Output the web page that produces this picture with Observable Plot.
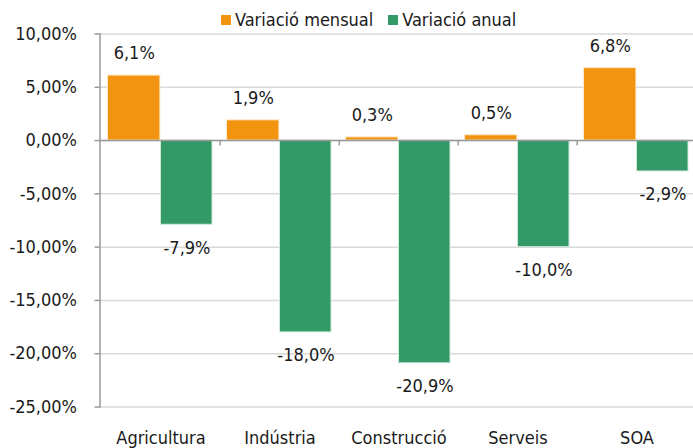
<!DOCTYPE html>
<html>
<head>
<meta charset="utf-8">
<script src="https://cdn.jsdelivr.net/npm/d3@7"></script>
<script src="https://cdn.jsdelivr.net/npm/@observablehq/plot@0.6"></script>
<style>
  html, body { margin: 0; padding: 0; background: #fff; }
  #wrap { position: relative; width: 693px; height: 448px; overflow: hidden;
    font-family: "DejaVu Sans Condensed", "DejaVu Sans", sans-serif; font-stretch: condensed; }
  #legend { position: absolute; top: 9px; left: 221px; display: flex; align-items: center;
    font-size: 18px; color: #1a1a1a; white-space: nowrap; }
  #legend .sw { display: inline-block; width: 10px; height: 10px; margin-right: 4px; }
  #legend .item { display: flex; align-items: center; margin-right: 15px; }
</style>
</head>
<body>
<div id="wrap">
  <div id="chart"></div>
  <div id="legend"></div>
</div>
<script>
const categories = ["Agricultura", "Indústria", "Construcció", "Serveis", "SOA"];
const seriesNames = ["Variació mensual", "Variació anual"];
const mensual = [6.1, 1.9, 0.3, 0.5, 6.8];
const anual = [-7.9, -18.0, -20.9, -10.0, -2.9];
const yTicks = [-25, -20, -15, -10, -5, 0, 5, 10];
const colors = ["#F39410", "#339966"];

const dataM = categories.map((c, i) => ({cat: c, v: mensual[i]}));
const dataA = categories.map((c, i) => ({cat: c, v: anual[i]}));

const fmtLabel = v => v.toFixed(1).replace(".", ",") + "%";
const fmtTick = v => v.toFixed(2).replace(".", ",") + "%";

const band = (697.5 - 99.5) / categories.length;
const font = "'DejaVu Sans Condensed', 'DejaVu Sans', sans-serif";

const chart = Plot.plot({
  width: 693,
  height: 448,
  marginLeft: 99.5,
  marginRight: -4.5,
  marginTop: 33.5,
  marginBottom: 41.5,
  style: {fontFamily: font, fontSize: "18px", color: "#1a1a1a", background: "#fff", fontStretch: "condensed"},
  x: {domain: categories, padding: 0, axis: null, label: null},
  y: {domain: [-25, 10], axis: null, label: null},
  marks: [
    Plot.gridY(yTicks, {stroke: "#d9d9d9", strokeOpacity: 1, strokeWidth: 1.5}),
    Plot.barY(dataM, {x: "cat", y: "v", fill: colors[0], stroke: "#fde9cc", strokeWidth: 1,
      insetLeft: 6.5, insetRight: band - 59.5}),
    Plot.barY(dataA, {x: "cat", y: "v", fill: colors[1], stroke: "#cfe8da", strokeWidth: 1,
      insetLeft: 59.5, insetRight: 8}),
    Plot.ruleY([0], {stroke: "#9a9a9a", strokeWidth: 1.5}),
    Plot.ruleX(categories.slice(1), {x: d => d, y1: 0, y2: -0.5, dx: -band / 2, stroke: "#9a9a9a", strokeWidth: 1.5}),
    Plot.frame({anchor: "left", stroke: "#9a9a9a", strokeWidth: 1.5}),
    Plot.axisY(yTicks, {tickSize: 5, tickPadding: 18, tickFormat: fmtTick, stroke: "#9a9a9a",
      strokeWidth: 1.5, fontSize: 18, fill: "#1a1a1a", label: null}),
    Plot.axisX({anchor: "bottom", tickSize: 0, tickPadding: 24, fontSize: 18, fill: "#1a1a1a", label: null}),
    Plot.text(dataM, {x: "cat", y: "v", text: d => fmtLabel(d.v), dx: -band / 2 + 33, dy: -22,
      fontSize: 18, fill: "#1a1a1a"}),
    Plot.text(dataA, {x: "cat", y: "v", text: d => fmtLabel(d.v), dx: 26, dy: 23,
      fontSize: 18, fill: "#1a1a1a"})
  ]
});
document.getElementById("chart").appendChild(chart);

const legend = document.getElementById("legend");
seriesNames.forEach((name, i) => {
  const item = document.createElement("span");
  item.className = "item";
  const sw = document.createElement("span");
  sw.className = "sw";
  sw.style.background = colors[i];
  item.appendChild(sw);
  item.appendChild(document.createTextNode(name));
  legend.appendChild(item);
});
</script>
</body>
</html>
